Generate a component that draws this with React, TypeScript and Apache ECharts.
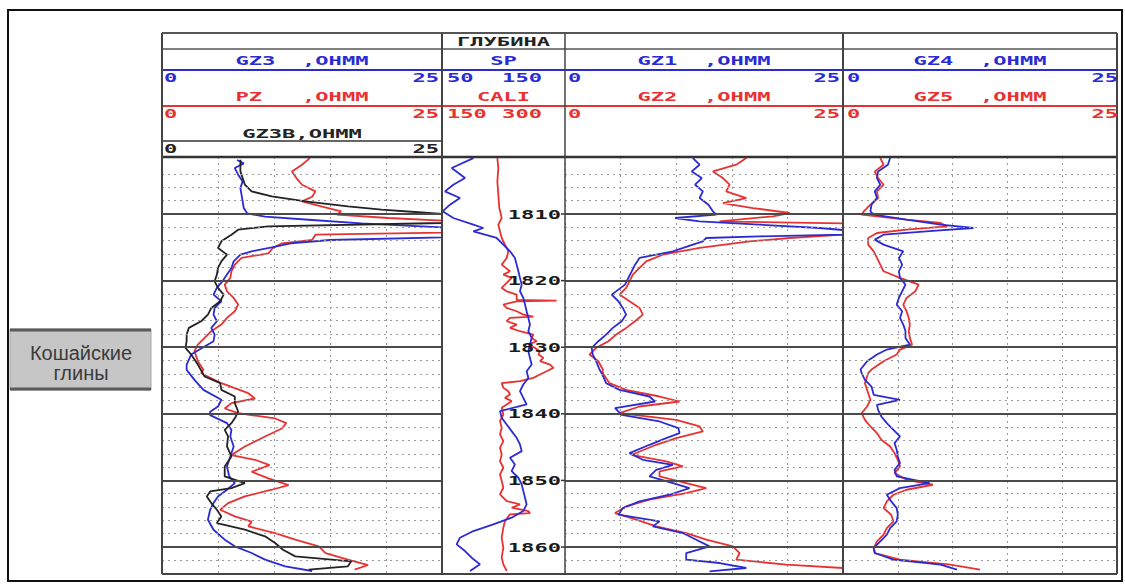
import React, { useEffect, useRef } from "react";
import * as echarts from "echarts";

// ---------------- data ----------------
const DEPTH_MIN = 1801.44;
const DEPTH_MAX = 1864.05;
const DEPTH_LABELS = [1810, 1820, 1830, 1840, 1850, 1860];
const MAJOR_DEPTHS = [1810, 1820, 1830, 1840, 1850, 1860];
const MINOR_DEPTHS = [1804, 1806, 1808, 1812, 1814, 1816, 1818, 1822, 1824, 1826, 1828, 1832, 1834, 1836, 1838, 1842, 1844, 1846, 1848, 1852, 1854, 1856, 1858, 1862];

// [depth, value]
const GZ3: [number, number][] = [
  [1801.9, 6.7], [1802.4, 7.3], [1803.1, 6.5], [1804.1, 6.8], [1805.1, 7.2], [1806.1, 7.0], [1807.1, 7.1], [1808.1, 7.2], [1809.1, 7.3], [1809.9, 7.6],
  [1810.4, 9.2], [1810.9, 13.4], [1811.4, 17.8], [1811.7, 21.4], [1812.0, 25], [1813.5, 25], [1813.9, 15], [1814.4, 11.5], [1815.0, 9.8], [1815.6, 8.0],
  [1816.1, 7.0], [1817.1, 6.4], [1818.1, 6.2], [1819.1, 5.8], [1820.1, 5.4], [1821.1, 4.9], [1822.1, 4.6], [1823.1, 5.3], [1824.1, 4.7], [1825.1, 4.6],
  [1826.1, 4.9], [1827.1, 4.4], [1828.1, 4.7], [1829.1, 4.6], [1829.9, 3.8], [1831.1, 2.6], [1832.6, 2.2], [1833.4, 2.2], [1834.9, 2.9], [1836.4, 3.7],
  [1837.9, 5.3], [1838.9, 5.0], [1839.7, 4.3], [1840.2, 4.3], [1841.4, 5.8], [1842.4, 6.2], [1843.4, 6.1], [1844.9, 6.4], [1846.4, 6.1], [1847.9, 5.8],
  [1849.4, 6.0], [1850.4, 6.5], [1851.4, 5.8], [1852.4, 5.0], [1853.4, 4.6], [1854.4, 4.3], [1855.9, 4.1], [1857.4, 4.6], [1858.9, 5.6], [1859.9, 6.5],
  [1860.9, 8.0], [1861.9, 9.2], [1862.9, 11.0], [1863.6, 13.4],
];
const PZ: [number, number][] = [
  [1801.6, 13.2], [1802.6, 12.5], [1803.6, 11.6], [1804.6, 12.0], [1805.6, 12.5], [1806.6, 13.7], [1807.4, 13.4], [1808.1, 12.5], [1808.9, 14.3], [1809.6, 16.0],
  [1810.1, 15.6], [1810.6, 20.2], [1811.0, 25], [1812.8, 25], [1813.1, 13.7], [1813.9, 13.4], [1814.4, 10.7], [1815.1, 9.9], [1815.9, 9.5], [1816.6, 7.1],
  [1817.6, 6.5], [1818.6, 6.2], [1819.6, 6.1], [1820.6, 5.6], [1821.6, 5.8], [1822.6, 6.4], [1823.6, 6.8], [1824.6, 6.5], [1825.6, 5.8], [1826.6, 5.3],
  [1827.6, 4.4], [1828.6, 3.8], [1829.6, 3.2], [1830.6, 2.9], [1832.1, 3.2], [1833.4, 3.7], [1833.9, 3.5], [1835.4, 5.3], [1836.9, 7.7], [1837.7, 8.3],
  [1838.4, 6.2], [1839.2, 5.6], [1839.9, 6.8], [1840.7, 10.1], [1841.4, 11.1], [1842.2, 10.7], [1843.4, 9.2], [1844.9, 7.4], [1846.2, 6.2], [1846.9, 8.3],
  [1847.7, 9.6], [1848.7, 8.0], [1849.7, 9.5], [1850.7, 11.3], [1851.4, 9.8], [1852.4, 7.4], [1853.4, 5.9], [1854.4, 5.2], [1855.4, 6.5], [1856.2, 8.0],
  [1856.9, 7.7], [1857.9, 10.1], [1858.9, 11.9], [1859.9, 14.0], [1860.9, 14.6], [1861.9, 16.6], [1862.7, 18.4], [1863.4, 17.2],
];
const GZ3B: [number, number][] = [
  [1801.85, 7.0], [1803.6, 7.0], [1805.6, 7.4], [1806.6, 8.0], [1807.35, 9.8], [1808.1, 12.8], [1808.85, 16.6], [1809.35, 19.6], [1809.7, 22.6], [1810.0, 25],
  [1811.35, 25], [1811.85, 9.5], [1812.35, 6.8], [1813.1, 6.2], [1814.1, 5.3], [1815.1, 5.0], [1816.1, 5.8], [1817.1, 5.3], [1818.1, 5.0], [1819.1, 4.9],
  [1820.1, 4.7], [1821.1, 5.0], [1822.1, 5.5], [1823.1, 5.2], [1824.1, 4.4], [1825.1, 4.1], [1826.1, 3.5], [1827.1, 2.4], [1828.1, 2.2], [1829.1, 2.2],
  [1830.1, 2.1], [1831.1, 2.6], [1832.6, 3.2], [1834.4, 3.8], [1835.4, 5.2], [1836.4, 5.3], [1837.4, 6.5], [1838.4, 6.5], [1839.65, 6.8], [1840.4, 6.6],
  [1841.4, 6.2], [1842.4, 5.6], [1843.4, 5.9], [1844.9, 5.8], [1846.4, 6.2], [1847.9, 5.6], [1849.4, 5.6], [1850.4, 7.4], [1851.15, 6.2], [1851.65, 4.3],
  [1852.4, 4.0], [1853.4, 4.4], [1854.4, 4.9], [1855.4, 5.3], [1856.4, 4.9], [1857.4, 7.4], [1858.4, 9.2], [1859.4, 10.1], [1860.4, 10.8], [1861.4, 11.9],
  [1862.15, 16.9], [1862.9, 16.6], [1863.4, 13.1],
];
const SP: [number, number][] = [
  [1801.6, 75.5], [1803.1, 57.9], [1804.6, 68.7], [1805.6, 59.2], [1806.6, 52.4], [1807.6, 64.6], [1808.6, 56.5], [1809.6, 50.5], [1810.6, 59.2], [1811.6, 75.5],
  [1812.1, 83.6], [1812.6, 75.5], [1813.6, 94.4], [1814.6, 99.9], [1815.6, 105.3], [1816.6, 109.3], [1817.6, 110.7], [1818.6, 112.1], [1819.6, 113.4], [1820.6, 114.8],
  [1821.6, 113.4], [1822.6, 116.1], [1823.6, 117.5], [1824.6, 118.8], [1825.6, 120.2], [1826.6, 121.5], [1827.6, 120.2], [1828.6, 122.9], [1829.6, 121.5], [1830.6, 120.2],
  [1831.6, 121.5], [1832.6, 122.9], [1833.6, 118.8], [1834.6, 120.2], [1835.6, 116.1], [1836.6, 113.4], [1837.6, 116.1], [1838.6, 118.8], [1839.6, 97.2], [1840.6, 98.5],
  [1841.6, 102.6], [1842.6, 106.6], [1843.6, 110.7], [1844.6, 113.4], [1845.6, 114.8], [1846.6, 105.3], [1847.6, 109.3], [1848.6, 106.6], [1849.6, 112.1], [1850.6, 114.8],
  [1851.6, 116.1], [1852.6, 117.5], [1853.6, 118.8], [1854.6, 116.1], [1855.6, 106.6], [1856.6, 91.7], [1857.6, 75.5], [1858.6, 64.6], [1859.6, 61.9], [1860.6, 68.7],
  [1861.6, 74.1], [1862.6, 80.9], [1863.6, 72.8],
];
const CALI: [number, number][] = [
  [1801.6, 217.5], [1803.1, 218.7], [1805.1, 217.5], [1807.1, 218.7], [1809.1, 219.9], [1810.6, 222.8], [1811.6, 218.7], [1812.6, 220.7], [1813.6, 222.8], [1814.6, 226.8],
  [1815.6, 230.9], [1816.6, 228.9], [1817.6, 222.8], [1818.6, 232.9], [1819.1, 224.8], [1819.6, 235.0], [1820.6, 226.8], [1821.1, 222.8], [1821.6, 228.9], [1822.1, 241.1],
  [1822.9, 241.1], [1823.0, 289.8], [1823.1, 241.1], [1823.6, 224.8], [1824.1, 228.9], [1824.6, 241.1], [1825.1, 249.2], [1825.4, 261.4], [1825.6, 232.9], [1826.1, 228.9],
  [1826.6, 241.1], [1827.1, 232.9], [1827.6, 245.1], [1828.1, 261.4], [1828.6, 259.4], [1829.1, 265.4], [1829.6, 255.3], [1830.1, 263.4], [1830.6, 269.5], [1831.1, 267.5],
  [1831.6, 273.6], [1832.1, 269.5], [1832.6, 281.7], [1833.1, 285.8], [1833.6, 277.6], [1834.1, 269.5], [1834.6, 261.4], [1835.1, 245.1], [1835.4, 222.8], [1836.1, 224.8],
  [1836.6, 230.9], [1837.1, 232.9], [1837.6, 226.8], [1838.1, 235.0], [1838.6, 228.9], [1839.1, 222.8], [1840.1, 224.8], [1841.1, 220.7], [1842.1, 222.8], [1843.1, 220.7],
  [1844.1, 224.8], [1845.1, 220.7], [1846.1, 222.8], [1847.1, 220.7], [1848.1, 224.8], [1849.1, 220.7], [1850.1, 222.8], [1851.1, 224.8], [1852.1, 220.7], [1853.1, 228.9],
  [1853.6, 245.1], [1854.1, 235.0], [1854.6, 255.3], [1854.9, 257.3], [1855.1, 232.9], [1856.1, 226.8], [1857.1, 224.8], [1858.6, 222.8], [1860.1, 224.8], [1861.6, 222.8],
  [1862.6, 224.8], [1863.6, 228.9],
];
const GZ1: [number, number][] = [
  [1801.6, 11.5], [1802.6, 12.1], [1803.6, 11.4], [1804.6, 12.3], [1805.6, 11.7], [1806.6, 12.4], [1807.6, 12.1], [1808.6, 12.9], [1809.6, 13.3], [1810.1, 13.6],
  [1810.6, 9.9], [1811.1, 12.1], [1811.6, 17.5], [1812.1, 22.9], [1812.4, 25], [1813.1, 25], [1813.35, 17.5], [1813.6, 12.7], [1814.1, 12.4], [1814.6, 11.5],
  [1815.6, 9.7], [1816.6, 6.7], [1817.6, 6.3], [1818.6, 6.0], [1819.6, 5.7], [1820.6, 5.4], [1822.1, 4.2], [1823.1, 4.8], [1824.1, 5.2], [1825.1, 5.5],
  [1826.1, 5.1], [1827.1, 4.3], [1828.1, 3.7], [1829.1, 3.0], [1830.1, 2.4], [1831.1, 2.5], [1832.1, 2.8], [1833.35, 3.1], [1833.9, 3.3], [1835.4, 3.7],
  [1836.4, 4.9], [1837.4, 7.6], [1838.15, 8.1], [1839.15, 4.5], [1840.15, 5.1], [1841.15, 8.5], [1842.15, 10.2], [1842.9, 10.3], [1843.65, 9.1], [1844.65, 7.6],
  [1845.9, 5.8], [1846.9, 7.0], [1847.65, 9.7], [1848.4, 8.2], [1849.4, 7.6], [1850.4, 9.7], [1851.15, 11.2], [1852.15, 9.4], [1853.15, 6.7], [1854.15, 5.2],
  [1855.15, 4.8], [1856.15, 8.5], [1856.9, 7.9], [1857.9, 10.6], [1858.9, 11.8], [1859.9, 13.0], [1860.9, 10.9], [1861.9, 10.9], [1862.4, 13.9], [1863.15, 16.3],
  [1863.65, 13.0],
];
const GZ2: [number, number][] = [
  [1801.6, 16.3], [1802.6, 15.4], [1803.6, 13.3], [1804.6, 14.2], [1805.6, 14.8], [1806.6, 14.5], [1807.6, 16.3], [1808.35, 14.2], [1809.1, 16.9], [1809.85, 20.2],
  [1810.35, 18.7], [1811.1, 13.9], [1811.4, 25], [1813.1, 25], [1813.6, 20.2], [1814.1, 16.6], [1815.1, 12.1], [1816.1, 8.8], [1817.1, 7.3], [1818.1, 6.7],
  [1819.1, 6.1], [1820.1, 5.8], [1821.1, 5.5], [1822.1, 4.9], [1823.1, 5.8], [1824.1, 6.7], [1825.1, 7.0], [1826.1, 6.3], [1827.1, 5.5], [1828.1, 4.6],
  [1829.1, 3.9], [1830.1, 2.8], [1831.1, 2.2], [1832.1, 3.0], [1833.35, 3.4], [1833.9, 3.4], [1835.4, 4.0], [1836.4, 5.5], [1837.4, 8.5], [1838.15, 10.3],
  [1838.9, 6.7], [1839.9, 4.9], [1840.9, 10.0], [1841.9, 12.1], [1842.65, 12.4], [1843.65, 10.0], [1844.65, 8.2], [1846.15, 6.0], [1847.15, 9.1], [1847.9, 10.6],
  [1848.65, 8.5], [1849.4, 8.5], [1850.4, 10.9], [1851.15, 12.7], [1851.9, 10.9], [1852.9, 7.6], [1853.9, 5.5], [1854.9, 4.5], [1855.9, 6.4], [1856.9, 8.2],
  [1857.9, 10.9], [1858.9, 12.7], [1859.9, 15.1], [1860.9, 15.7], [1861.9, 15.4], [1862.65, 19.9], [1863.15, 25], [1863.65, 25],
];
const GZ4: [number, number][] = [
  [1801.6, 4.3], [1802.6, 4.1], [1803.6, 3.2], [1804.6, 3.1], [1805.6, 3.4], [1806.6, 2.9], [1807.6, 3.1], [1808.6, 2.6], [1809.6, 2.5], [1810.1, 2.8],
  [1810.85, 5.8], [1811.6, 8.9], [1812.1, 11.9], [1812.5, 8.5], [1813.1, 3.7], [1813.85, 2.9], [1814.6, 3.7], [1815.6, 5.5], [1816.6, 5.1], [1817.6, 5.4],
  [1818.6, 5.1], [1819.6, 5.2], [1820.6, 5.7], [1821.6, 5.4], [1822.6, 5.1], [1823.6, 4.9], [1824.6, 5.4], [1825.6, 5.2], [1826.6, 5.5], [1827.6, 5.7],
  [1828.6, 5.7], [1829.6, 6.1], [1830.35, 4.0], [1831.1, 3.1], [1832.1, 2.2], [1833.35, 1.6], [1833.9, 1.7], [1834.9, 2.0], [1835.9, 2.6], [1837.15, 2.8],
  [1837.9, 5.2], [1838.65, 3.1], [1839.4, 3.2], [1840.4, 3.5], [1841.4, 4.0], [1842.4, 4.6], [1843.4, 5.2], [1844.4, 4.7], [1845.4, 4.9], [1846.4, 5.0],
  [1847.4, 5.2], [1848.4, 4.7], [1849.4, 4.9], [1850.4, 7.9], [1851.15, 5.2], [1852.15, 4.0], [1853.15, 4.4], [1854.15, 4.9], [1855.15, 5.0], [1856.15, 4.9],
  [1857.15, 4.3], [1858.15, 4.0], [1859.15, 3.4], [1860.15, 2.8], [1860.9, 2.9], [1861.9, 4.6], [1862.65, 8.9], [1863.4, 10.4],
];
const GZ5: [number, number][] = [
  [1801.6, 3.4], [1802.6, 3.7], [1803.6, 2.9], [1804.6, 3.2], [1805.6, 3.7], [1806.6, 3.1], [1807.6, 3.2], [1808.6, 2.5], [1809.6, 1.9], [1810.1, 1.7],
  [1810.85, 5.8], [1811.35, 8.9], [1811.85, 9.5], [1812.35, 5.8], [1812.85, 3.1], [1813.6, 2.3], [1814.6, 2.3], [1815.6, 2.8], [1816.6, 3.1], [1817.6, 3.4],
  [1818.6, 3.7], [1819.6, 5.2], [1820.6, 6.9], [1821.6, 6.6], [1822.6, 5.8], [1823.6, 5.5], [1824.6, 5.8], [1825.6, 6.0], [1826.6, 6.1], [1827.6, 6.0],
  [1828.6, 6.1], [1829.6, 6.3], [1830.35, 5.2], [1831.1, 4.9], [1832.1, 3.7], [1833.35, 2.6], [1833.9, 2.3], [1835.4, 2.0], [1836.9, 2.3], [1837.9, 2.5],
  [1838.9, 2.2], [1839.9, 1.7], [1840.9, 2.0], [1841.9, 2.5], [1842.9, 3.1], [1843.9, 3.5], [1844.9, 4.3], [1845.9, 4.7], [1846.9, 5.0], [1847.9, 5.2],
  [1848.9, 4.7], [1849.9, 5.8], [1850.65, 8.2], [1851.4, 5.8], [1852.15, 4.6], [1853.15, 4.0], [1854.15, 3.7], [1855.15, 4.4], [1856.15, 4.6], [1857.15, 4.0],
  [1858.15, 3.7], [1859.15, 3.1], [1860.15, 2.8], [1860.9, 2.9], [1861.9, 5.2], [1862.65, 9.8], [1863.4, 12.5],
];

// header texts
const HEADER_DEPTH = "ГЛУБИНА";
const TRACK1_TITLES = ["GZ3  ,OHMM", "PZ   ,OHMM", "GZ3B,OHMM"];
const DEPTH_TITLES = ["SP", "CALI"];
const TRACK3_TITLES = ["GZ1  ,OHMM", "GZ2  ,OHMM"];
const TRACK4_TITLES = ["GZ4  ,OHMM", "GZ5  ,OHMM"];
const RES_SCALE = ["0", "25"];
const SP_SCALE = ["50", "150"];
const CALI_SCALE = ["150", "300"];
const FORMATION = ["Кошайские", "глины"];

// ---------------- style / layout ----------------
const BLUE = "#2b2bd4";
const RED = "#e83232";
const BLACK = "#232323";
const GRID_DOT = "#9a9a9a";
const TOP = 157;
const HEIGHT = 417;
const TRACKS = [
  { left: 162, width: 280 },
  { left: 442, width: 123 },
  { left: 565, width: 278 },
  { left: 843, width: 274 },
];
const MONO = 'bold 13px "DejaVu Sans Mono", monospace';
const SX = 1.7;

function txt(text: string, x: number, y: number, fill: string, align: string) {
  return {
    type: "text",
    x,
    y,
    scaleX: SX,
    z: 20,
    style: { text, fill, font: MONO, textAlign: align, textVerticalAlign: "middle" },
  };
}
function hline(x1: number, x2: number, y: number, stroke: string, w: number) {
  return { type: "line", z: 15, shape: { x1, y1: y, x2, y2: y }, style: { stroke, lineWidth: w } };
}
function vline(x: number, y1: number, y2: number, stroke: string, w: number) {
  return { type: "line", z: 15, shape: { x1: x, y1, x2: x, y2 }, style: { stroke, lineWidth: w } };
}

function curve(name: string, pts: [number, number][], xi: number, yi: number, color: string) {
  return {
    name,
    type: "line",
    xAxisIndex: xi,
    yAxisIndex: yi,
    data: pts.map((p) => [p[1], p[0]]),
    showSymbol: false,
    symbol: "none",
    z: 4,
    lineStyle: { color, width: 1.8 },
    silent: true,
  };
}

function gridLines(xi: number, yi: number) {
  return {
    type: "line",
    xAxisIndex: xi,
    yAxisIndex: yi,
    data: [],
    z: 1,
    silent: true,
    markLine: {
      silent: true,
      symbol: "none",
      animation: false,
      label: { show: false },
      data: [
        ...MINOR_DEPTHS.map((d) => ({ yAxis: d, lineStyle: { type: [2, 4], color: GRID_DOT, width: 1.2 } })),
        ...MAJOR_DEPTHS.map((d) => ({ yAxis: d, lineStyle: { type: "solid", color: "#4a4a4a", width: 2 } })),
      ],
    },
  };
}

function resAxis(gridIndex: number) {
  return {
    type: "value",
    gridIndex,
    min: 0,
    max: 25,
    interval: 5,
    axisLine: { show: false },
    axisTick: { show: false },
    axisLabel: { show: false },
    splitLine: { show: true, lineStyle: { type: [2, 4], color: GRID_DOT, width: 1 } },
  };
}

export default function App() {
  const ref = useRef<HTMLDivElement>(null);
  useEffect(() => {
    document.body.style.margin = "0";
    if (!ref.current) return;
    const chart = echarts.init(ref.current, undefined, { renderer: "svg" });

    const c1 = (TRACKS[0].left + TRACKS[0].left + TRACKS[0].width) / 2;
    const c2 = (TRACKS[1].left + TRACKS[1].left + TRACKS[1].width) / 2;
    const c3 = (TRACKS[2].left + TRACKS[2].left + TRACKS[2].width) / 2;
    const c4 = (TRACKS[3].left + TRACKS[3].left + TRACKS[3].width) / 2;
    const L = 162, R = 1117, B = TOP + HEIGHT;

    const graphic: any[] = [
      // outer frame
      { type: "rect", z: 0, shape: { x: 8, y: 10, width: 1114, height: 571 }, style: { fill: "#fff", stroke: "#111", lineWidth: 2 } },
      // header lines
      hline(L, R, 33, "#555", 2),
      hline(L, R, 49, "#555", 1.5),
      hline(L, R, 70, BLUE, 2),
      hline(L, R, 106, RED, 2),
      hline(L, 442, 141, "#333", 1.5),
      hline(L, R, TOP, "#333", 2.5),
      hline(L, R, B, "#444", 2),
      vline(L, 33, B, "#444", 2),
      vline(442, 33, B, "#444", 2),
      vline(565, 33, B, "#444", 1.5),
      vline(843, 33, B, "#444", 2),
      vline(R, 33, B, "#444", 2),
      // header texts
      txt(HEADER_DEPTH, c2, 41, BLACK, "center"),
      txt(TRACK1_TITLES[0], c1, 60, BLUE, "center"),
      txt(DEPTH_TITLES[0], c2, 60, BLUE, "center"),
      txt(TRACK3_TITLES[0], c3, 60, BLUE, "center"),
      txt(TRACK4_TITLES[0], c4, 60, BLUE, "center"),
      txt(RES_SCALE[0], 164, 77, BLUE, "left"),
      txt(RES_SCALE[1], 439, 77, BLUE, "right"),
      txt(SP_SCALE[0], 447, 77, BLUE, "left"),
      txt(SP_SCALE[1], 542, 77, BLUE, "right"),
      txt(RES_SCALE[0], 568, 77, BLUE, "left"),
      txt(RES_SCALE[1], 840, 77, BLUE, "right"),
      txt(RES_SCALE[0], 847, 77, BLUE, "left"),
      txt(RES_SCALE[1], 1118, 77, BLUE, "right"),
      txt(TRACK1_TITLES[1], c1, 96, RED, "center"),
      txt(DEPTH_TITLES[1], c2, 96, RED, "center"),
      txt(TRACK3_TITLES[1], c3, 96, RED, "center"),
      txt(TRACK4_TITLES[1], c4, 96, RED, "center"),
      txt(RES_SCALE[0], 164, 113, RED, "left"),
      txt(RES_SCALE[1], 439, 113, RED, "right"),
      txt(CALI_SCALE[0], 447, 113, RED, "left"),
      txt(CALI_SCALE[1], 542, 113, RED, "right"),
      txt(RES_SCALE[0], 568, 113, RED, "left"),
      txt(RES_SCALE[1], 840, 113, RED, "right"),
      txt(RES_SCALE[0], 847, 113, RED, "left"),
      txt(RES_SCALE[1], 1118, 113, RED, "right"),
      txt(TRACK1_TITLES[2], c1, 133, BLACK, "center"),
      txt(RES_SCALE[0], 164, 148, BLACK, "left"),
      txt(RES_SCALE[1], 439, 148, BLACK, "right"),
      // formation label box
      { type: "rect", z: 5, shape: { x: 10, y: 329, width: 141, height: 61 }, style: { fill: "#c6c6c6", stroke: "#a8a8a8", lineWidth: 1 } },
      hline(10, 151, 330, "#5a5a5a", 3),
      hline(10, 151, 389, "#5a5a5a", 3),
      { type: "text", z: 20, x: 81, y: 353, style: { text: FORMATION[0], fill: "#3a3a3a", font: '20px "Liberation Sans", Arial, sans-serif', textAlign: "center", textVerticalAlign: "middle" } },
      { type: "text", z: 20, x: 81, y: 373, style: { text: FORMATION[1], fill: "#3a3a3a", font: '20px "Liberation Sans", Arial, sans-serif', textAlign: "center", textVerticalAlign: "middle" } },
    ];

    const yAxes = TRACKS.map((_, i) => ({
      type: "value",
      gridIndex: i,
      min: DEPTH_MIN,
      max: DEPTH_MAX,
      inverse: true,
      show: false,
      splitLine: { show: false },
    }));

    const option: any = {
      animation: false,
      backgroundColor: "#ffffff",
      grid: TRACKS.map((t) => ({ left: t.left, top: TOP, width: t.width, height: HEIGHT, show: false })),
      xAxis: [
        resAxis(0),
        { type: "value", gridIndex: 1, min: 50, max: 150, show: false, splitLine: { show: false } },
        { type: "value", gridIndex: 1, min: 150, max: 300, show: false, splitLine: { show: false } },
        resAxis(2),
        resAxis(3),
      ],
      yAxis: yAxes,
      graphic,
      series: [
        gridLines(0, 0),
        gridLines(3, 2),
        gridLines(4, 3),
        curve("PZ", PZ, 0, 0, RED),
        curve("GZ3", GZ3, 0, 0, BLUE),
        curve("GZ3B", GZ3B, 0, 0, BLACK),
        curve("CALI", CALI, 2, 1, RED),
        curve("SP", SP, 1, 1, BLUE),
        curve("GZ2", GZ2, 3, 2, RED),
        curve("GZ1", GZ1, 3, 2, BLUE),
        curve("GZ5", GZ5, 4, 3, RED),
        curve("GZ4", GZ4, 4, 3, BLUE),
        {
          type: "custom",
          xAxisIndex: 1,
          yAxisIndex: 1,
          z: 8,
          silent: true,
          data: DEPTH_LABELS.map((d) => [150, d]),
          renderItem: (params: any, api: any) => {
            const p = api.coord([api.value(0), api.value(1)]);
            return {
              type: "group",
              children: [
                {
                  type: "text",
                  x: p[0] - 4,
                  y: p[1],
                  scaleX: SX,
                  style: {
                    text: String(api.value(1)),
                    fill: "#1a1a1a",
                    font: MONO,
                    textAlign: "right",
                    textVerticalAlign: "middle",
                  },
                },
                {
                  type: "line",
                  shape: { x1: p[0] - 4, y1: p[1], x2: p[0], y2: p[1] },
                  style: { stroke: "#333", lineWidth: 1.5 },
                },
              ],
            };
          },
        },
      ],
    };
    chart.setOption(option);
    return () => chart.dispose();
  }, []);
  return <div ref={ref} style={{ width: 1125, height: 584 }} />;
}
